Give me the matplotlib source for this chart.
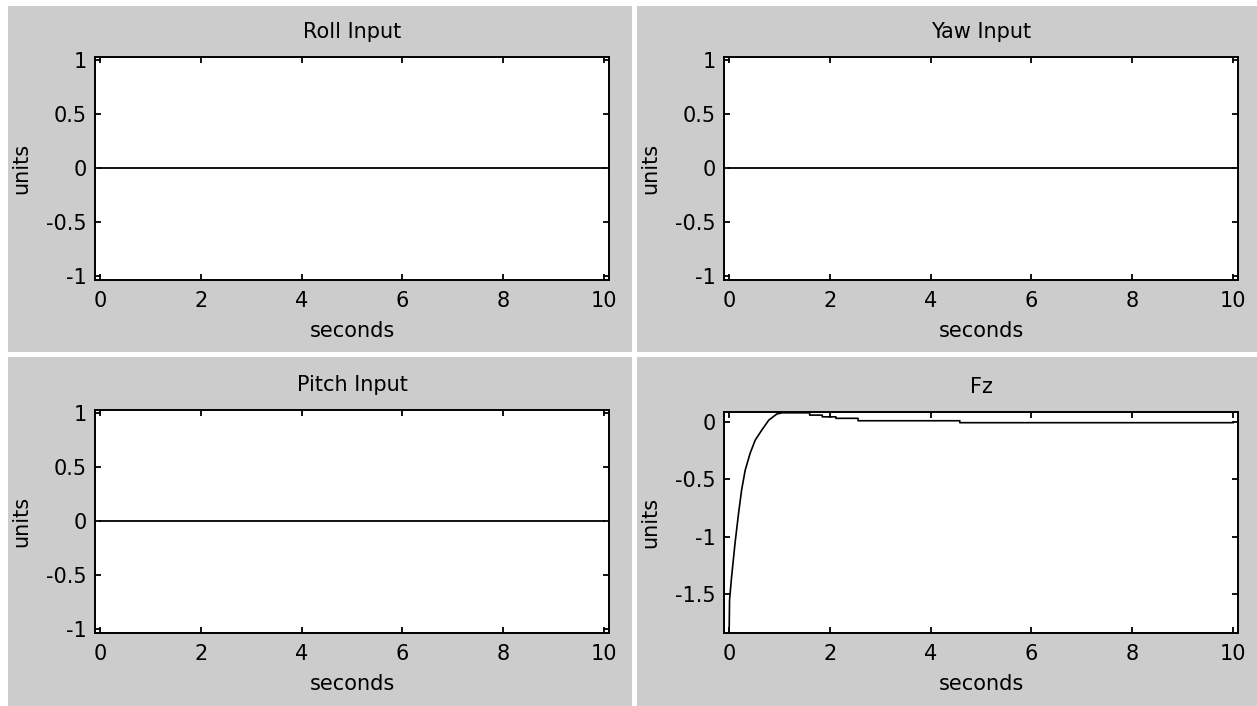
import matplotlib
matplotlib.use("Agg")
import matplotlib.pyplot as plt
from matplotlib.patches import Rectangle

plt.rcParams['font.family'] = ['DejaVu Sans']
plt.rcParams['axes.unicode_minus'] = False

W, H = 1257, 706

# input channels (all held at zero)
t_inputs = [0, 10]
roll_input = [0, 0]
yaw_input = [0, 0]
pitch_input = [0, 0]

# vertical force response
fz_t = [0.0, 0.01, 0.05, 0.12, 0.19, 0.25, 0.32, 0.42, 0.52, 0.65, 0.79, 0.95, 1.05,
        1.6, 1.6, 1.85, 1.85, 2.12, 2.12, 2.56, 2.56, 4.58, 4.58, 10.0]
fz_v = [-1.9, -1.55, -1.35, -1.05, -0.79, -0.59, -0.42, -0.27, -0.157, -0.07, 0.017, 0.07, 0.08,
        0.08, 0.06, 0.06, 0.045, 0.045, 0.032, 0.032, 0.011, 0.011, -0.006, -0.006]

unit_ticks = [-1, -0.5, 0, 0.5, 1]
fz_ticks = [-1.5, -1, -0.5, 0]
sec_ticks = [0, 2, 4, 6, 8, 10]

fig = plt.figure(figsize=(W / 100, H / 100), dpi=100, facecolor='white')

# grey window backgrounds, in pixel boxes (x0, y0_top, x1, y1_bottom)
windows = [(8, 6, 632, 352), (637, 6, 1257, 352), (8, 357, 632, 706), (637, 357, 1257, 706)]
for x0, y0, x1, y1 in windows:
    fig.patches.append(Rectangle((x0 / W, 1 - y1 / H), (x1 - x0) / W, (y1 - y0) / H,
                                 transform=fig.transFigure, facecolor='#cccccc',
                                 edgecolor='none', zorder=-5))


def make_axes(x0, y0, x1, y1):
    return fig.add_axes([x0 / W, 1 - y1 / H, (x1 - x0) / W, (y1 - y0) / H])


def style(ax, title, yticks, ylim):
    ax.set_facecolor('white')
    ax.set_xlim(-0.1, 10.1)
    ax.set_ylim(*ylim)
    ax.set_xticks(sec_ticks)
    ax.set_yticks(yticks)
    ax.set_yticklabels([('%g' % v) for v in yticks])
    ax.tick_params(direction='in', length=4, width=1.3, top=True, right=True,
                   labelsize=15, colors='black')
    ax.tick_params(axis='x', pad=8)
    ax.tick_params(axis='y', pad=6)
    for s in ax.spines.values():
        s.set_linewidth(1.4)
    ax.set_title(title, fontsize=15, pad=14)
    ax.set_xlabel('seconds', fontsize=15, labelpad=7)
    ax.set_ylabel('units', fontsize=15, labelpad=11)


ax1 = make_axes(95, 57, 609, 280)
ax1.plot(t_inputs, roll_input, color='black', lw=1.3)
style(ax1, 'Roll Input', unit_ticks, (-1.035, 1.03))

ax2 = make_axes(724, 57, 1238, 280)
ax2.plot(t_inputs, yaw_input, color='black', lw=1.3)
style(ax2, 'Yaw Input', unit_ticks, (-1.035, 1.03))

ax3 = make_axes(95, 410, 609, 633)
ax3.plot(t_inputs, pitch_input, color='black', lw=1.3)
style(ax3, 'Pitch Input', unit_ticks, (-1.035, 1.03))

ax4 = make_axes(724, 412, 1238, 633)
ax4.plot(fz_t, fz_v, color='black', lw=1.2)
style(ax4, 'Fz', fz_ticks, (-1.835, 0.087))

fig.savefig('out.png', dpi=100, facecolor=fig.get_facecolor())
